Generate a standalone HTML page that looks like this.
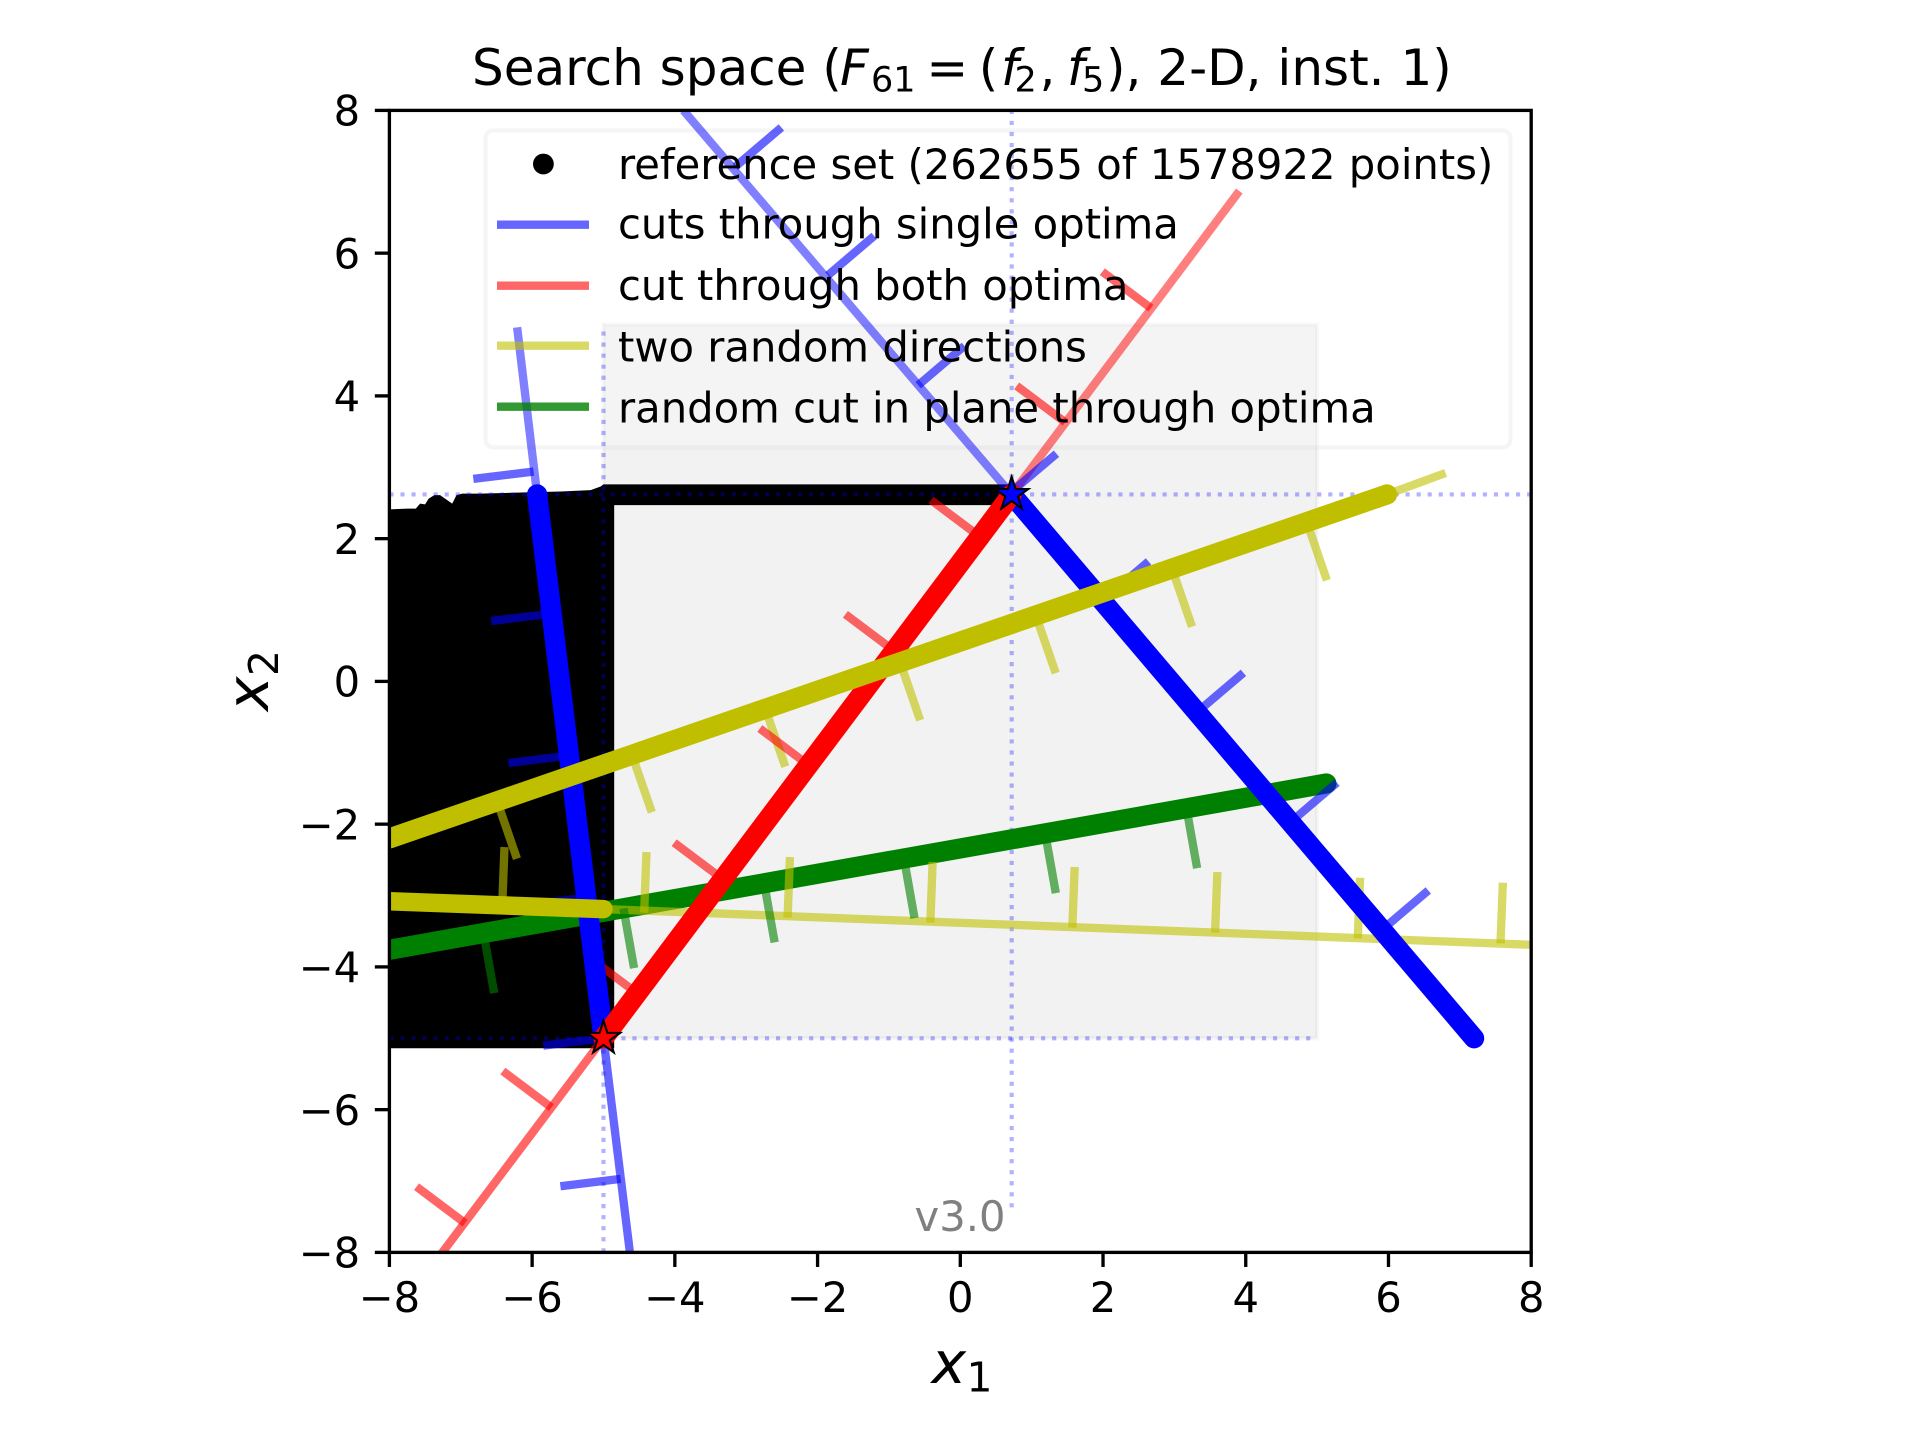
<!DOCTYPE html>
<html lang="en">
<head>
<meta charset="utf-8">
<title>Search space chart</title>
<style>
html,body{margin:0;padding:0;background:#fff;width:1920px;height:1440px;overflow:hidden}
svg{display:block}
text{font-family:"DejaVu Sans","Liberation Sans",sans-serif;fill:#000}
</style>
</head>
<body>
<svg id="chart" xmlns="http://www.w3.org/2000/svg" width="1920" height="1440" viewBox="0 0 1920 1440">
  <rect x="0" y="0" width="1920" height="1440" fill="#fff"/>
  <defs><clipPath id="axes-clip"><rect x="389.4" y="110.4" width="1141.8" height="1142"/></clipPath></defs>
  <text font-size="50" y="85"><tspan x="472">Search space (</tspan><tspan x="840" font-style="italic">F</tspan><tspan x="871" dy="6.7" font-size="35">61</tspan><tspan x="926.4" dy="-6.7">=</tspan><tspan x="978.7">(</tspan><tspan x="1001" font-style="italic">f</tspan><tspan x="1014.5" dy="6.7" font-size="35">2</tspan><tspan x="1039.5" dy="-6.7">,</tspan><tspan x="1067" font-style="italic">f</tspan><tspan x="1082" dy="6.7" font-size="35">5</tspan><tspan x="1106" dy="-6.7">), 2-D, inst. 1)</tspan></text>
  <g id="plot-under" clip-path="url(#axes-clip)"></g>
  <g id="axes-layer"></g>
  <g id="legend-layer"></g>
  <text x="960" y="1231" font-size="41.67" text-anchor="middle" style="fill:#808080">v3.0</text>
  <text font-size="58.33" y="1383"><tspan x="931.5" font-style="italic">x</tspan><tspan x="966.5" dy="8.7" font-size="40.8">1</tspan></text>
  <g transform="translate(268 711) rotate(-90)">
    <text font-size="58.33" x="0" y="0"><tspan font-style="italic">x</tspan><tspan x="35" dy="10" font-size="40.8">2</tspan></text>
  </g>
</svg>
<script>
// ---- axis ticks ----
const xTickValues = [-8, -6, -4, -2, 0, 2, 4, 6, 8];
const yTickValues = [-8, -6, -4, -2, 0, 2, 4, 6, 8];
const xDomain = [-8, 8];
const yDomain = [-8, 8];

// ---- search domain and optima ----
const domainX = [-5, 5];
const domainY = [-5, 5];
const optimumBlue = [0.72, 2.62];
const optimumRed = [-5, -5];

// ---- dotted guides through the optima ----
const guideV1X = [0.72, 0.72];
const guideV1Y = [-7.37, 8];
const guideV2X = [-5, -5];
const guideV2Y = [-8, 5];
const guideH1X = [-8, 8];
const guideH1Y = [2.62, 2.62];
const guideH2X = [-8, 5];
const guideH2Y = [-5, -5];

// ---- reference set outline ----
const referenceSetX = [-8, -7.75, -7.63, -7.57, -7.5, -7.45, -7.37, -7.29, -7.19, -7.12, -7.06, -6.98, -6.73, -6.02, -5.6, -5.18, -5.04, -5, 0.72, 0.72, -4.85, -4.85, -8];
const referenceSetY = [2.41, 2.42, 2.42, 2.49, 2.48, 2.56, 2.61, 2.61, 2.54, 2.49, 2.61, 2.63, 2.63, 2.65, 2.66, 2.68, 2.73, 2.76, 2.76, 2.47, 2.47, -5.14, -5.14];

// ---- blue cut A (through blue optimum) ----
const blueAThinX = [-3.88, 0.72];
const blueAThinY = [8, 2.62];
const blueAThickX = [0.72, 7.2];
const blueAThickY = [2.62, -5];
const blueATickX = [-3.155, -1.855, -0.59, 0.70, 1.99, 3.32, 4.63, 5.91];
const blueATickY = [7.21, 5.69, 4.15, 2.64, 1.13, -0.43, -1.97, -3.48];

// ---- blue cut B (through red optimum) ----
const blueBTopX = [-6.21, -5.93];
const blueBTopY = [4.96, 2.62];
const blueBThickX = [-5.93, -5];
const blueBThickY = [2.62, -5];
const blueBBottomX = [-5, -4.63];
const blueBBottomY = [-5, -8];
const blueBTickX = [-5.98, -5.73, -5.49, -5.24, -5, -4.76];
const blueBTickY = [2.94, 0.95, -1.04, -3.03, -5, -6.97];

// ---- red cut through both optima ----
const redLowerX = [-7.28, -5];
const redLowerY = [-8.03, -5];
const redThickX = [-5, 0.72];
const redThickY = [-5, 2.62];
const redUpperX = [0.72, 3.91];
const redUpperY = [2.62, 6.87];
const redTickX = [-6.94, -5.73, -4.53, -3.33, -2.13, -0.93, 0.27, 1.47, 2.67];
const redTickY = [-7.59, -5.97, -4.37, -2.77, -1.17, 0.43, 2.03, 3.63, 5.23];

// ---- yellow random direction A ----
const yellowAThickX = [-8, 5.98];
const yellowAThickY = [-2.2, 2.62];
const yellowAThinX = [5.98, 6.8];
const yellowAThinY = [2.62, 2.92];
const yellowATickX = [4.86, 2.97, 1.06, -0.84, -2.73, -4.6, -6.49];
const yellowATickY = [2.22, 1.57, 0.92, 0.26, -0.39, -1.03, -1.68];

// ---- yellow random direction B ----
const yellowBThickX = [-8, -5];
const yellowBThickY = [-3.08, -3.19];
const yellowBThinX = [-5, 8];
const yellowBThinY = [-3.19, -3.69];
const yellowBTickX = [7.57, 5.57, 3.57, 1.57, -0.42, -2.42, -4.43, -6.42];
const yellowBTickY = [-3.67, -3.60, -3.52, -3.45, -3.38, -3.31, -3.24, -3.17];

// ---- green random cut ----
const greenThickX = [-8, 5.13];
const greenThickY = [-3.76, -1.43];
const greenTickX = [3.17, 1.19, -0.79, -2.75, -4.72, -6.68];
const greenTickY = [-1.78, -2.13, -2.48, -2.82, -3.18, -3.53];

// ---- legend ----
const legendLabels = ['reference set (262655 of 1578922 points)', 'cuts through single optima', 'cut through both optima', 'two random directions', 'random cut in plane through optima'];

const tickLength = 0.85;
const thickWidth = 20.2;
const shortThickWidth = 18.5;
const NS = 'http://www.w3.org/2000/svg';
const axLeft = 389.4, axRight = 1531.2, axTop = 110.4, axBottom = 1252.4;
function sx(v) { return axLeft + (v - xDomain[0]) / (xDomain[1] - xDomain[0]) * (axRight - axLeft); }
function sy(v) { return axBottom - (v - yDomain[0]) / (yDomain[1] - yDomain[0]) * (axBottom - axTop); }
function make(tag, attrs, parent) {
  const node = document.createElementNS(NS, tag);
  for (const k in attrs) node.setAttribute(k, attrs[k]);
  parent.appendChild(node);
  return node;
}
function pathOf(xs, ys) {
  return xs.map((x, i) => (i ? 'L' : 'M') + sx(x).toFixed(2) + ' ' + sy(ys[i]).toFixed(2)).join(' ');
}
const plot = document.getElementById('plot-under');
const axesLayer = document.getElementById('axes-layer');
const legendLayer = document.getElementById('legend-layer');

function drawLine(xs, ys, color, width, alpha, cap, name) {
  const el = make('path', { d: pathOf(xs, ys), fill: 'none', stroke: color, 'stroke-width': width, 'stroke-opacity': alpha, 'stroke-linecap': cap }, plot);
  
  
  return el;
}
function drawTicks(tx, ty, lx, ly, side, color, name) {
  const dx = lx[1] - lx[0], dy = ly[1] - ly[0];
  const len = Math.hypot(dx, dy);
  const nx = -dy / len * side * tickLength, ny = dx / len * side * tickLength;
  tx.forEach((x, i) => {
    const el = make('path', { d: pathOf([x, x + nx], [ty[i], ty[i] + ny]), fill: 'none', stroke: color, 'stroke-width': 8.33, 'stroke-opacity': 0.6 }, plot);
    
    
  });
}
function drawGuide(xs, ys, name) {
  const el = make('path', { d: pathOf(xs, ys), fill: 'none', stroke: '#0000ff', 'stroke-opacity': 0.3, 'stroke-width': 4.17, 'stroke-dasharray': '4.17 6.875' }, plot);
  
  
}
function drawStar(pt, color, name) {
  const cx = sx(pt[0]), cy = sy(pt[1]), R = 17.5, r = R * 0.382;
  let d = '';
  for (let i = 0; i < 10; i++) {
    const rad = i % 2 ? r : R, a = -Math.PI / 2 + i * Math.PI / 5;
    d += (i ? 'L' : 'M') + (cx + rad * Math.cos(a)).toFixed(2) + ' ' + (cy + rad * Math.sin(a)).toFixed(2);
  }
  const el = make('path', { d: d + 'Z', fill: color, stroke: '#000', 'stroke-width': 2.08, 'stroke-linejoin': 'miter' }, plot);
  
  
}

// search domain box
const domainBox = make('rect', { x: sx(domainX[0]), y: sy(domainY[1]), width: sx(domainX[1]) - sx(domainX[0]), height: sy(domainY[0]) - sy(domainY[1]), fill: '#000', 'fill-opacity': 0.05, stroke: '#000', 'stroke-opacity': 0.03, 'stroke-width': 4.17 }, plot);



// legend box sits beneath the lines
const legendBox = make('rect', { x: 485.5, y: 130.5, width: 1025, height: 317, rx: 8, ry: 8, fill: '#fff', 'fill-opacity': 0.2, stroke: '#ccc', 'stroke-opacity': 0.2, 'stroke-width': 4.17 }, plot);



// reference set
const refSet = make('path', { d: pathOf(referenceSetX, referenceSetY) + 'Z', fill: '#000' }, plot);



// guides
drawGuide(guideV1X, guideV1Y, 'guide-vertical-optimum-1');
drawGuide(guideV2X, guideV2Y, 'guide-vertical-optimum-2');
drawGuide(guideH1X, guideH1Y, 'guide-horizontal-optimum-1');
drawGuide(guideH2X, guideH2Y, 'guide-horizontal-optimum-2');

// thick green first
drawLine(greenThickX, greenThickY, '#008000', thickWidth, 1, 'round', 'green-cut-thick');

// thin segments and ticks
drawLine(yellowBThinX, yellowBThinY, '#bfbf00', 8.33, 0.6, 'butt', 'yellow-b-thin');
drawLine(yellowAThinX, yellowAThinY, '#bfbf00', 8.33, 0.6, 'butt', 'yellow-a-thin');
drawTicks(yellowBTickX, yellowBTickY, yellowBThinX, yellowBThinY, 1, '#bfbf00', 'yellow-b-tick');
drawTicks(yellowATickX, yellowATickY, yellowAThickX, yellowAThickY, -1, '#bfbf00', 'yellow-a-tick');
drawTicks(greenTickX, greenTickY, greenThickX, greenThickY, -1, '#008000', 'green-tick');
drawLine(redLowerX, redLowerY, '#ff0000', 8.33, 0.6, 'butt', 'red-cut-lower');
drawLine(redUpperX, redUpperY, '#ff0000', 8.33, 0.5, 'butt', 'red-cut-upper');
drawTicks(redTickX, redTickY, redThickX, redThickY, 1, '#ff0000', 'red-tick');
drawLine(blueAThinX, blueAThinY, '#0000ff', 8.33, 0.5, 'butt', 'blue-a-thin');
drawTicks(blueATickX, blueATickY, blueAThickX, blueAThickY, 1, '#0000ff', 'blue-a-tick');
drawLine(blueBTopX, blueBTopY, '#0000ff', 8.33, 0.5, 'butt', 'blue-b-top');
drawLine(blueBBottomX, blueBBottomY, '#0000ff', 8.33, 0.6, 'butt', 'blue-b-bottom');
drawTicks(blueBTickX, blueBTickY, blueBThickX, blueBThickY, -1, '#0000ff', 'blue-b-tick');

// thick lines on top
drawLine(blueAThickX, blueAThickY, '#0000ff', thickWidth, 1, 'round', 'blue-a-thick');
drawLine(blueBThickX, blueBThickY, '#0000ff', thickWidth, 1, 'round', 'blue-b-thick');
drawLine(redThickX, redThickY, '#ff0000', thickWidth, 1, 'round', 'red-cut-thick');
drawLine(yellowAThickX, yellowAThickY, '#bfbf00', thickWidth, 1, 'round', 'yellow-a-thick');
drawLine(yellowBThickX, yellowBThickY, '#bfbf00', shortThickWidth, 1, 'round', 'yellow-b-thick');

drawStar(optimumBlue, '#0000ff', 'optimum-blue-star');
drawStar(optimumRed, '#ff0000', 'optimum-red-star');

// axes
const frame = make('rect', { x: axLeft, y: axTop, width: axRight - axLeft, height: axBottom - axTop, fill: 'none', stroke: '#000', 'stroke-width': 3.33 }, axesLayer);



function fmt(v) { return v < 0 ? '\u2212' + Math.abs(v) : String(v); }
xTickValues.forEach(v => {
  const t = make('line', { x1: sx(v), x2: sx(v), y1: axBottom, y2: axBottom + 14.58, stroke: '#000', 'stroke-width': 3.33 }, axesLayer);
  
  
  const l = make('text', { x: sx(v), y: 1312, 'font-size': 41.67, 'text-anchor': 'middle' }, axesLayer);
  
  
  l.textContent = fmt(v);
});
yTickValues.forEach(v => {
  const t = make('line', { x1: axLeft - 14.58, x2: axLeft, y1: sy(v), y2: sy(v), stroke: '#000', 'stroke-width': 3.33 }, axesLayer);
  
  
  const l = make('text', { x: axLeft - 29.2, y: sy(v) + 15.2, 'font-size': 41.67, 'text-anchor': 'end' }, axesLayer);
  
  
  l.textContent = fmt(v);
});

// legend entries
const handleStyles = [null, ['#0000ff', 0.6], ['#ff0000', 0.6], ['#bfbf00', 0.6], ['#008000', 0.8]];
const textBase = [179, 238.5, 300.2, 361.5, 422.3];
const handleY = [164, 224.7, 285.7, 345.7, 406.7];
legendLabels.forEach((label, i) => {
  if (i === 0) {
    const dot = make('circle', { cx: 543.4, cy: handleY[0], r: 10.4, fill: '#000' }, legendLayer);
    
    
  } else {
    const h = make('line', { x1: 497, x2: 589, y1: handleY[i], y2: handleY[i], stroke: handleStyles[i][0], 'stroke-opacity': handleStyles[i][1], 'stroke-width': 8.33 }, legendLayer);
    
    
  }
  const t = make('text', { x: 618, y: textBase[i], 'font-size': 41.72 }, legendLayer);
  
  
  t.textContent = label;
});
</script>
</body>
</html>
